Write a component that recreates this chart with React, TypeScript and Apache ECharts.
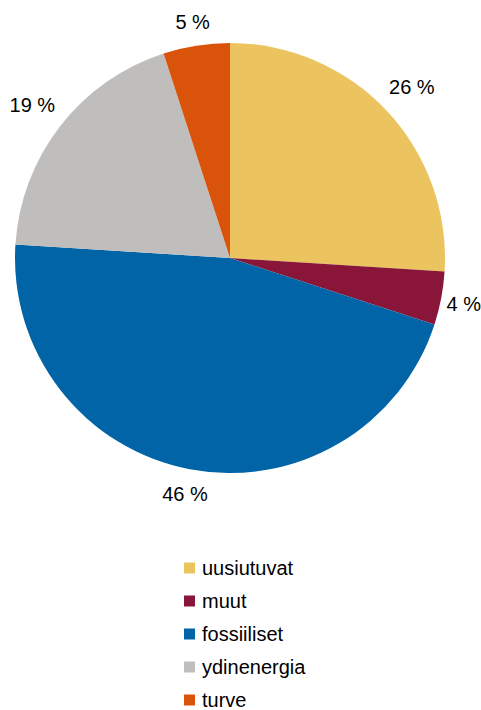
import React, { useEffect, useRef } from "react";
import * as echarts from "echarts";

const categories = ["uusiutuvat", "muut", "fossiiliset", "ydinenergia", "turve"];
const shares = [26, 4, 46, 19, 5];
const colors = ["#EBC35F", "#891638", "#0064A7", "#BFBEBD", "#D9530B"];

const WIDTH = 481;
const HEIGHT = 710;
const CX = 230;
const CY = 258;
const R = 215;
const LABEL_GAP = 11;
const FONT = "Liberation Sans, Arial, sans-serif";

export default function App() {
  const ref = useRef<HTMLDivElement>(null);

  useEffect(() => {
    if (!ref.current) return;
    const chart = echarts.init(ref.current, null, { renderer: "svg" });
    const total = shares.reduce((a, b) => a + b, 0);
    const mids: number[] = [];
    let acc = 0;
    shares.forEach((v) => {
      mids.push(acc + v / 2);
      acc += v;
    });

    chart.setOption({
      animation: false,
      color: colors,
      textStyle: { fontFamily: FONT },
      legend: {
        orient: "vertical",
        left: 184,
        top: 558,
        padding: 0,
        itemWidth: 11,
        itemHeight: 11,
        itemGap: 13,
        icon: "rect",
        data: categories,
        textStyle: {
          fontSize: 20,
          lineHeight: 18,
          color: "#000",
          padding: [0, 0, 0, 2],
          fontFamily: FONT,
        },
      },
      series: [
        {
          type: "pie",
          center: [CX, CY],
          radius: R,
          startAngle: 90,
          clockwise: true,
          avoidLabelOverlap: false,
          data: categories.map((name, i) => ({ name, value: shares[i] })),
          itemStyle: { borderWidth: 0 },
          emphasis: { disabled: true },
          label: {
            show: true,
            position: "outside",
            formatter: "{c} %",
            fontSize: 20,
            color: "#000",
            fontFamily: FONT,
          },
          labelLine: { show: false },
          labelLayout: (params: any) => {
            // put each label just outside its slice, its box clear of the rim
            const mid = (mids[params.dataIndex] / total) * 2 * Math.PI;
            const s = Math.sin(mid);
            const c = Math.cos(mid);
            const w = params.labelRect.width;
            const h = params.labelRect.height;
            const d = R + LABEL_GAP + Math.abs(s) * (w / 2) + Math.abs(c) * (h / 2);
            let x = CX + s * d;
            x = Math.min(x, WIDTH - w / 2);
            return {
              x,
              y: CY - c * d,
              align: "center",
              verticalAlign: "middle",
            };
          },
        },
      ],
    });
    return () => chart.dispose();
  }, []);

  return (
    <div style={{ position: "absolute", left: 0, top: 0, width: WIDTH, height: HEIGHT, overflow: "hidden", background: "#fff" }}>
      <div ref={ref} style={{ width: WIDTH, height: HEIGHT + 80 }} />
    </div>
  );
}
